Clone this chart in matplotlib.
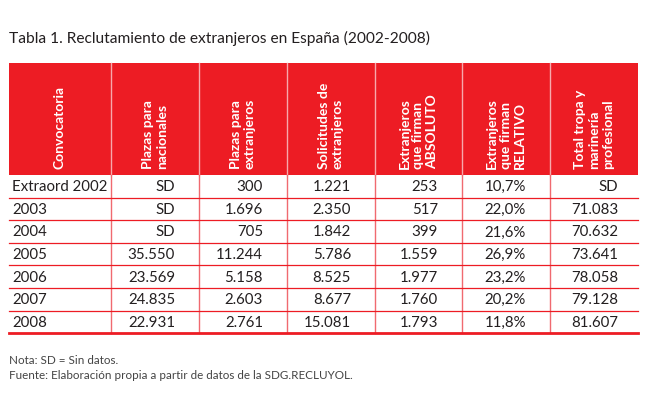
import matplotlib
matplotlib.use('Agg')
import matplotlib.pyplot as plt
from matplotlib.patches import Rectangle

plt.rcParams['font.family'] = ['Lato', 'DejaVu Sans']

title = "Tabla 1. Reclutamiento de extranjeros en España (2002-2008)"
headers = ["Convocatoria",
           "Plazas para\nnacionales",
           "Plazas para\nextranjeros",
           "Solicitudes de\nextranjeros",
           "Extranjeros\nque firman\nABSOLUTO",
           "Extranjeros\nque firman\nRELATIVO",
           "Total tropa y\nmarinería\nprofesional"]
convocatoria = ["Extraord 2002", "2003", "2004", "2005", "2006", "2007", "2008"]
plazas_nac = ["SD", "SD", "SD", "35.550", "23.569", "24.835", "22.931"]
plazas_ext = ["300", "1.696", "705", "11.244", "5.158", "2.603", "2.761"]
solicitudes = ["1.221", "2.350", "1.842", "5.786", "8.525", "8.677", "15.081"]
firman_abs = ["253", "517", "399", "1.559", "1.977", "1.760", "1.793"]
firman_rel = ["10,7%", "22,0%", "21,6%", "26,9%", "23,2%", "20,2%", "11,8%"]
total_tropa = ["SD", "71.083", "70.632", "73.641", "78.058", "79.128", "81.607"]
notes = ["Nota: SD = Sin datos.",
         "Fuente: Elaboración propia a partir de datos de la SDG.RECLUYOL."]

columns = [convocatoria, plazas_nac, plazas_ext, solicitudes,
           firman_abs, firman_rel, total_tropa]

red = '#ED1C24'
dark = '#231F20'

fig = plt.figure(figsize=(6.54, 4.02), dpi=100)
ax = fig.add_axes([0, 0, 1, 1])
ax.set_xlim(0, 654)
ax.set_ylim(402, 0)
ax.axis('off')

edges = [9, 111, 199, 287, 375, 462, 550, 638]
head_top, head_bot = 64, 176
row_h = 22.6

ax.text(9, 38, title, fontsize=11.2, color=dark, va='center', ha='left')

# header band
ax.add_patch(Rectangle((edges[0], head_top), edges[-1] - edges[0],
                       head_bot - head_top, color=red, lw=0))
for x in edges[1:-1]:
    ax.plot([x, x], [head_top, head_bot], color='#F7A9AC', lw=1)
for i, h in enumerate(headers):
    cx = (edges[i] + edges[i + 1]) / 2
    ax.text(cx, head_bot - 7, h, rotation=90, color='white', fontsize=10,
            fontweight='bold', ha='center', va='bottom', multialignment='left',
            linespacing=1.2)

# body
n = len(convocatoria)
table_bot = head_bot + n * row_h
for x in edges[1:-1]:
    ax.plot([x, x], [head_bot, table_bot], color='#F06A70', lw=1)
for r in range(1, n):
    y = head_bot + r * row_h
    ax.plot([edges[0], edges[-1]], [y, y], color=red, lw=0.9)
ax.plot([edges[0], edges[-1]], [table_bot, table_bot], color=red, lw=2)

for r in range(n):
    yc = head_bot + (r + 0.5) * row_h
    for c, col in enumerate(columns):
        if c == 0:
            ax.text(edges[0] + 3, yc, col[r], fontsize=10.8, color=dark,
                    ha='left', va='center')
        else:
            pad = 20 if c == len(columns) - 1 else 24
            ax.text(edges[c + 1] - pad, yc, col[r], fontsize=10.8, color=dark,
                    ha='right', va='center')

for i, t in enumerate(notes):
    ax.text(9, 361 + i * 15, t, fontsize=8.4, color='#444444',
            ha='left', va='center')

fig.savefig('out.png', dpi=100)
